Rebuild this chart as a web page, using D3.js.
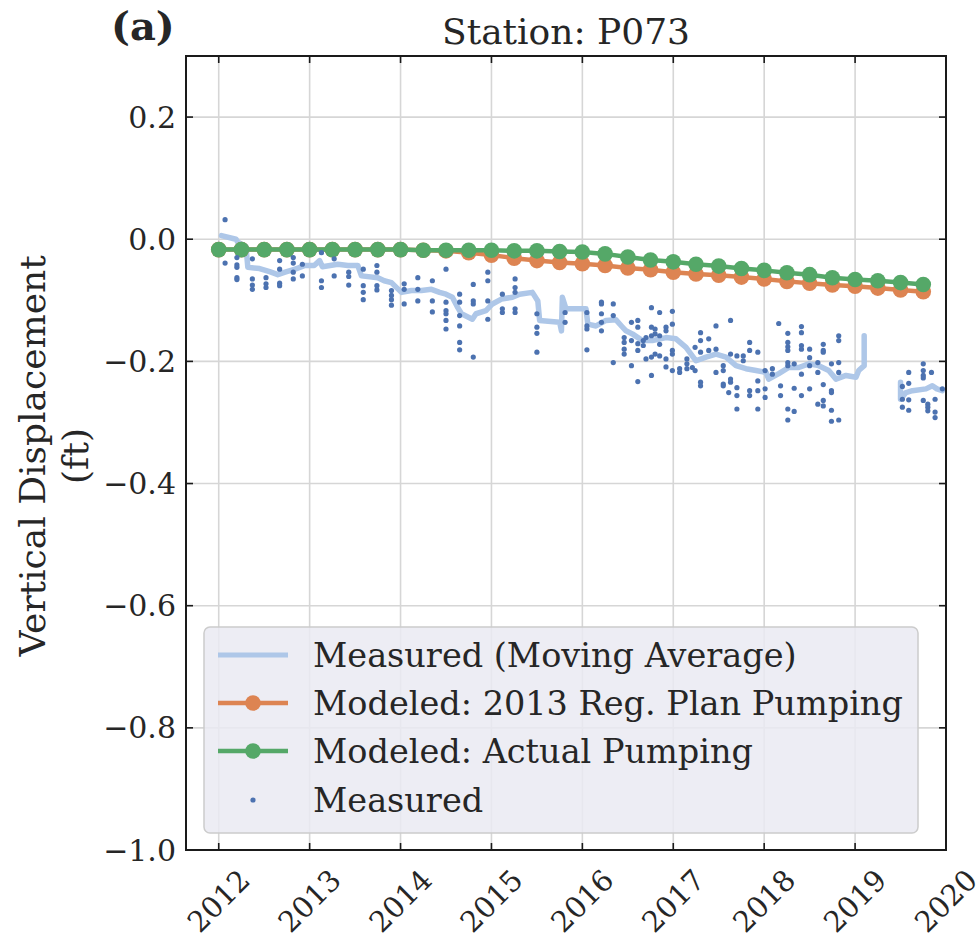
<!DOCTYPE html>
<html>
<head>
<meta charset="utf-8">
<script src="https://cdn.jsdelivr.net/npm/d3@7"></script>
<style>
  html, body { margin: 0; padding: 0; background: #ffffff; }
  svg { display: block; }
  text { font-family: "DejaVu Serif", serif; fill: #262626; }
</style>
</head>
<body>
<svg id="chart" width="976" height="941"></svg>
<script>
// ---------------- DATA ----------------
const title = "Station: P073";
const panelLabel = "(a)";
const yLabelLines = ["Vertical Displacement", "(ft)"];
const xTickValues = [2012, 2013, 2014, 2015, 2016, 2017, 2018, 2019, 2020];
const yTickValues = [0.2, 0.0, -0.2, -0.4, -0.6, -0.8, -1.0];

const modelDates = [2012.0, 2012.25, 2012.5, 2012.75, 2013.0, 2013.25, 2013.5, 2013.75,
  2014.0, 2014.25, 2014.5, 2014.75, 2015.0, 2015.25, 2015.5, 2015.75,
  2016.0, 2016.25, 2016.5, 2016.75, 2017.0, 2017.25, 2017.5, 2017.75,
  2018.0, 2018.25, 2018.5, 2018.75, 2019.0, 2019.25, 2019.5, 2019.75];
const modeledRegPlan = [-0.017, -0.017, -0.017, -0.017, -0.017, -0.017, -0.017, -0.017,
  -0.017, -0.018, -0.019, -0.022, -0.026, -0.031, -0.035, -0.038,
  -0.040, -0.043, -0.047, -0.050, -0.054, -0.057, -0.059, -0.062,
  -0.065, -0.069, -0.072, -0.075, -0.077, -0.080, -0.083, -0.086];
const modeledActual = [-0.017, -0.017, -0.017, -0.017, -0.017, -0.017, -0.017, -0.017,
  -0.017, -0.018, -0.018, -0.018, -0.018, -0.019, -0.019, -0.020,
  -0.021, -0.024, -0.029, -0.034, -0.037, -0.041, -0.044, -0.048,
  -0.051, -0.055, -0.058, -0.063, -0.066, -0.068, -0.071, -0.074];

// moving average (null = data gap)
const maDates = [2012.03, 2012.19, 2012.21, 2012.30, 2012.32, 2012.45, 2012.56, 2012.65, 2012.73, 2012.84,
  2012.95, 2013.05, 2013.11, 2013.14, 2013.31, 2013.42, 2013.53, 2013.57, 2013.75, 2013.82,
  2013.90, 2014.01, 2014.12, 2014.23, 2014.34, 2014.43, 2014.50, 2014.57, 2014.63, 2014.67,
  2014.79, 2014.83, 2014.94, 2015.01, 2015.11, 2015.23, 2015.31, 2015.45, 2015.51, 2015.53,
  2015.75, 2015.77, 2015.78, 2015.82, 2016.04, 2016.06, 2016.15, 2016.26, 2016.37, 2016.43,
  2016.48, 2016.55, 2016.66, 2016.77, 2016.92, 2017.03, 2017.14, 2017.25, 2017.36, 2017.47,
  2017.58, 2017.69, 2017.80, 2017.91, 2018.02, 2018.05, 2018.16, 2018.27, 2018.38, 2018.49,
  2018.60, 2018.71, 2018.79, 2018.90, 2019.01, 2019.04, 2019.10, 2019.10,
  2019.30,
  2019.50, 2019.50, 2019.56, 2019.63, 2019.78, 2019.85, 2019.90, 2019.96];
const maValues = [0.006, 0.000, -0.005, -0.012, -0.046, -0.048, -0.053, -0.058, -0.054, -0.049,
  -0.043, -0.043, -0.035, -0.045, -0.041, -0.043, -0.043, -0.060, -0.063, -0.068,
  -0.071, -0.087, -0.084, -0.084, -0.082, -0.087, -0.090, -0.095, -0.112, -0.122,
  -0.131, -0.122, -0.117, -0.106, -0.098, -0.095, -0.090, -0.087, -0.101, -0.133,
  -0.136, -0.150, -0.095, -0.114, -0.114, -0.139, -0.142, -0.133, -0.132, -0.142,
  -0.150, -0.155, -0.166, -0.166, -0.161, -0.163, -0.177, -0.199, -0.193, -0.188,
  -0.193, -0.207, -0.212, -0.215, -0.218, -0.229, -0.220, -0.210, -0.210, -0.204,
  -0.207, -0.215, -0.229, -0.223, -0.226, -0.215, -0.207, -0.158,
  null,
  -0.234, -0.262, -0.251, -0.248, -0.245, -0.240, -0.245, -0.248];

// measured points: survey epochs and the values measured at each
const measEpochs = [2012.07, 2012.20, 2012.37, 2012.52, 2012.67, 2012.82, 2012.92, 2013.13, 2013.27, 2013.43,
  2013.59, 2013.74, 2013.90, 2014.04, 2014.19, 2014.35, 2014.50, 2014.65, 2014.80, 2014.96,
  2015.12, 2015.26, 2015.50, 2015.81, 2016.05, 2016.21, 2016.34, 2016.46, 2016.54, 2016.61,
  2016.67, 2016.70, 2016.76, 2016.80, 2016.85, 2016.92, 2016.99, 2017.07, 2017.15, 2017.21,
  2017.24, 2017.30, 2017.39, 2017.47, 2017.55, 2017.61, 2017.63, 2017.70, 2017.77, 2017.84,
  2017.93, 2018.01, 2018.09, 2018.16, 2018.18, 2018.26, 2018.33, 2018.41, 2018.50, 2018.59,
  2018.65, 2018.74, 2018.82, 2019.52, 2019.59, 2019.75, 2019.80, 2019.84, 2019.88, 2019.96];
const measValues = [
  [0.032, -0.039], [-0.030, -0.042, -0.046, -0.063, -0.066], [-0.032, -0.065, -0.075, -0.082],
  [-0.063, -0.073, -0.079], [-0.035, -0.049, -0.072, -0.076], [-0.030, -0.039, -0.054, -0.065],
  [-0.041, -0.060], [-0.022, -0.068, -0.079], [-0.032, -0.060], [-0.054, -0.061, -0.075],
  [-0.049, -0.076, -0.087, -0.099], [-0.043, -0.054, -0.076, -0.083], [-0.084, -0.092, -0.099, -0.108],
  [-0.073, -0.082, -0.106], [-0.063, -0.082, -0.101], [-0.068, -0.101, -0.119],
  [-0.049, -0.103, -0.117, -0.122, -0.133, -0.147], [-0.090, -0.103, -0.125, -0.142, -0.169, -0.181],
  [-0.074, -0.101, -0.106, -0.193], [-0.054, -0.068, -0.101, -0.131],
  [-0.090, -0.114, -0.120], [-0.065, -0.079, -0.087, -0.114, -0.120], [-0.122, -0.144, -0.154, -0.185],
  [-0.120, -0.136], [-0.120, -0.142, -0.147, -0.181], [-0.103, -0.106, -0.122, -0.136, -0.150],
  [-0.106, -0.125, -0.202], [-0.161, -0.169, -0.180, -0.188], [-0.136, -0.166, -0.207],
  [-0.133, -0.144, -0.171, -0.182, -0.233], [-0.166, -0.174], [-0.161, -0.196],
  [-0.112, -0.144, -0.158, -0.193, -0.223], [-0.147, -0.155, -0.188], [-0.120, -0.158, -0.172, -0.191],
  [-0.144, -0.150, -0.196, -0.209], [-0.118, -0.139, -0.182, -0.188, -0.215], [-0.212, -0.218],
  [-0.196, -0.204, -0.212], [-0.210], [-0.177, -0.215], [-0.153, -0.166, -0.185, -0.234, -0.240],
  [-0.163, -0.182], [-0.142, -0.180, -0.218], [-0.207, -0.215, -0.237, -0.240], [-0.251],
  [-0.133, -0.188, -0.229, -0.234], [-0.191, -0.243, -0.256, -0.278], [-0.191, -0.199],
  [-0.169, -0.182, -0.248, -0.256], [-0.185, -0.232, -0.248, -0.278], [-0.215, -0.245, -0.259],
  [-0.212, -0.221], [-0.138], [-0.240, -0.256],
  [-0.154, -0.169, -0.176, -0.182, -0.202, -0.207, -0.278, -0.296], [-0.204, -0.244, -0.282],
  [-0.143, -0.153, -0.174, -0.180, -0.221, -0.256], [-0.180, -0.194, -0.207, -0.245],
  [-0.202, -0.218, -0.270], [-0.172, -0.182, -0.185, -0.238, -0.264, -0.273],
  [-0.204, -0.248, -0.251, -0.280, -0.298], [-0.158, -0.166, -0.202, -0.218, -0.296],
  [-0.241, -0.262, -0.275], [-0.218, -0.236, -0.263, -0.280], [-0.204, -0.215, -0.223, -0.227, -0.264],
  [-0.270, -0.275, -0.281], [-0.218], [-0.262, -0.283, -0.292], [-0.245]];

const legendLabels = ["Measured (Moving Average)", "Modeled: 2013 Reg. Plan Pumping",
  "Modeled: Actual Pumping", "Measured"];

// ---------------- STYLE / LAYOUT ----------------
const colors = { ma: "#aec7e8", reg: "#dd8452", act: "#55a868", meas: "#4c72b0" };
const plot = { left: 186, right: 946, top: 56, bottom: 850 };
const tickFont = 30, xTickFont = 29, titleFont = 36, labelFont = 36, legendFont = 33.5;

const svg = d3.select("#chart");
const x = d3.scaleLinear().domain([2011.64, 2020.0]).range([plot.left, plot.right]);
const y = d3.scaleLinear().domain([-1.0, 0.3]).range([plot.bottom, plot.top]);

// grid
const grid = svg.append("g").attr("stroke", "#d6d6d6").attr("stroke-width", 1.6);
grid.selectAll("line.v").data(xTickValues.filter(v => x(v) < plot.right - 1)).join("line")
  .attr("x1", d => x(d)).attr("x2", d => x(d)).attr("y1", plot.top).attr("y2", plot.bottom);
grid.selectAll("line.h").data(yTickValues.filter(v => y(v) < plot.bottom - 1)).join("line")
  .attr("y1", d => y(d)).attr("y2", d => y(d)).attr("x1", plot.left).attr("x2", plot.right);

svg.append("clipPath").attr("id", "clip").append("rect")
  .attr("x", plot.left).attr("y", plot.top).attr("width", plot.right - plot.left).attr("height", plot.bottom - plot.top);
const g = svg.append("g").attr("clip-path", "url(#clip)");

// moving average
const maData = maDates.map((d, i) => ({ t: d, v: maValues[i] }));
g.append("path").datum(maData)
  .attr("fill", "none").attr("stroke", colors.ma).attr("stroke-width", 5.5)
  .attr("stroke-linejoin", "round").attr("stroke-linecap", "round")
  .attr("d", d3.line().defined(d => d.v !== null).x(d => x(d.t)).y(d => y(d.v)));

// modeled series
function drawModel(vals, color) {
  const data = modelDates.map((d, i) => ({ t: d, v: vals[i] }));
  g.append("path").datum(data)
    .attr("fill", "none").attr("stroke", color).attr("stroke-width", 4.5)
    .attr("d", d3.line().x(d => x(d.t)).y(d => y(d.v)));
  g.selectAll(null).data(data).join("circle")
    .attr("cx", d => x(d.t)).attr("cy", d => y(d.v)).attr("r", 7.8).attr("fill", color);
}
drawModel(modeledRegPlan, colors.reg);
drawModel(modeledActual, colors.act);

// measured points
const measData = [];
measEpochs.forEach((t, i) => measValues[i].forEach(v => measData.push({ t, v })));
g.selectAll(null).data(measData).join("circle")
  .attr("cx", d => x(d.t)).attr("cy", d => y(d.v)).attr("r", 2.6).attr("fill", colors.meas);

// frame
svg.append("rect").attr("x", plot.left).attr("y", plot.top)
  .attr("width", plot.right - plot.left).attr("height", plot.bottom - plot.top)
  .attr("fill", "none").attr("stroke", "#1a1a1a").attr("stroke-width", 2);

// ticks (inward, all sides)
const tl = 7;
const ticks = svg.append("g").attr("stroke", "#1a1a1a").attr("stroke-width", 1.6);
xTickValues.filter(v => x(v) < plot.right - 1).forEach(v => {
  ticks.append("line").attr("x1", x(v)).attr("x2", x(v)).attr("y1", plot.bottom).attr("y2", plot.bottom - tl);
  ticks.append("line").attr("x1", x(v)).attr("x2", x(v)).attr("y1", plot.top).attr("y2", plot.top + tl);
});
yTickValues.filter(v => y(v) < plot.bottom - 1).forEach(v => {
  ticks.append("line").attr("y1", y(v)).attr("y2", y(v)).attr("x1", plot.left).attr("x2", plot.left + tl);
  ticks.append("line").attr("y1", y(v)).attr("y2", y(v)).attr("x1", plot.right).attr("x2", plot.right - tl);
});

// tick labels
const fmtY = v => (v < 0 ? "\u2212" : "") + Math.abs(v).toFixed(1);
svg.append("g").selectAll("text").data(yTickValues).join("text")
  .attr("x", plot.left - 10).attr("y", d => y(d))
  .attr("text-anchor", "end").attr("dominant-baseline", "central")
  .attr("font-size", tickFont).text(fmtY);
svg.append("g").selectAll("text").data(xTickValues).join("text")
  .attr("transform", d => `translate(${x(d)},${plot.bottom + 51}) rotate(-45)`)
  .attr("text-anchor", "middle").attr("dominant-baseline", "central")
  .attr("font-size", xTickFont).text(d => String(d));

// title & labels
svg.append("text").attr("x", (plot.left + plot.right) / 2).attr("y", 44)
  .attr("text-anchor", "middle").attr("font-size", titleFont).text(title);
svg.append("text").attr("x", 111).attr("y", 40)
  .attr("font-size", 40).attr("font-weight", "bold").text(panelLabel);
const yl = svg.append("text").attr("transform", `translate(0,456) rotate(-90)`)
  .attr("text-anchor", "middle").attr("font-size", labelFont);
yl.append("tspan").attr("x", 0).attr("y", 45).text(yLabelLines[0]);
yl.append("tspan").attr("x", 0).attr("y", 88).text(yLabelLines[1]);

// legend
const lg = svg.append("g");
lg.append("rect").attr("x", 204).attr("y", 627).attr("width", 714).attr("height", 206)
  .attr("rx", 6).attr("fill", "#eaeaf2").attr("fill-opacity", 0.85)
  .attr("stroke", "#cccccc").attr("stroke-width", 1.5);
const rowY = [655, 703, 751, 800];
const hx0 = 218, hx1 = 288, hxm = 253;
lg.append("line").attr("x1", hx0).attr("x2", hx1).attr("y1", rowY[0]).attr("y2", rowY[0])
  .attr("stroke", colors.ma).attr("stroke-width", 5);
[[colors.reg, rowY[1]], [colors.act, rowY[2]]].forEach(([c, yy]) => {
  lg.append("line").attr("x1", hx0).attr("x2", hx1).attr("y1", yy).attr("y2", yy)
    .attr("stroke", c).attr("stroke-width", 4.5);
  lg.append("circle").attr("cx", hxm).attr("cy", yy).attr("r", 7.8).attr("fill", c);
});
lg.append("circle").attr("cx", hxm).attr("cy", rowY[3]).attr("r", 2.6).attr("fill", colors.meas);
lg.selectAll("text").data(legendLabels).join("text")
  .attr("x", 313).attr("y", (d, i) => rowY[i]).attr("dominant-baseline", "central")
  .attr("font-size", legendFont).text(d => d);
</script>
</body>
</html>
